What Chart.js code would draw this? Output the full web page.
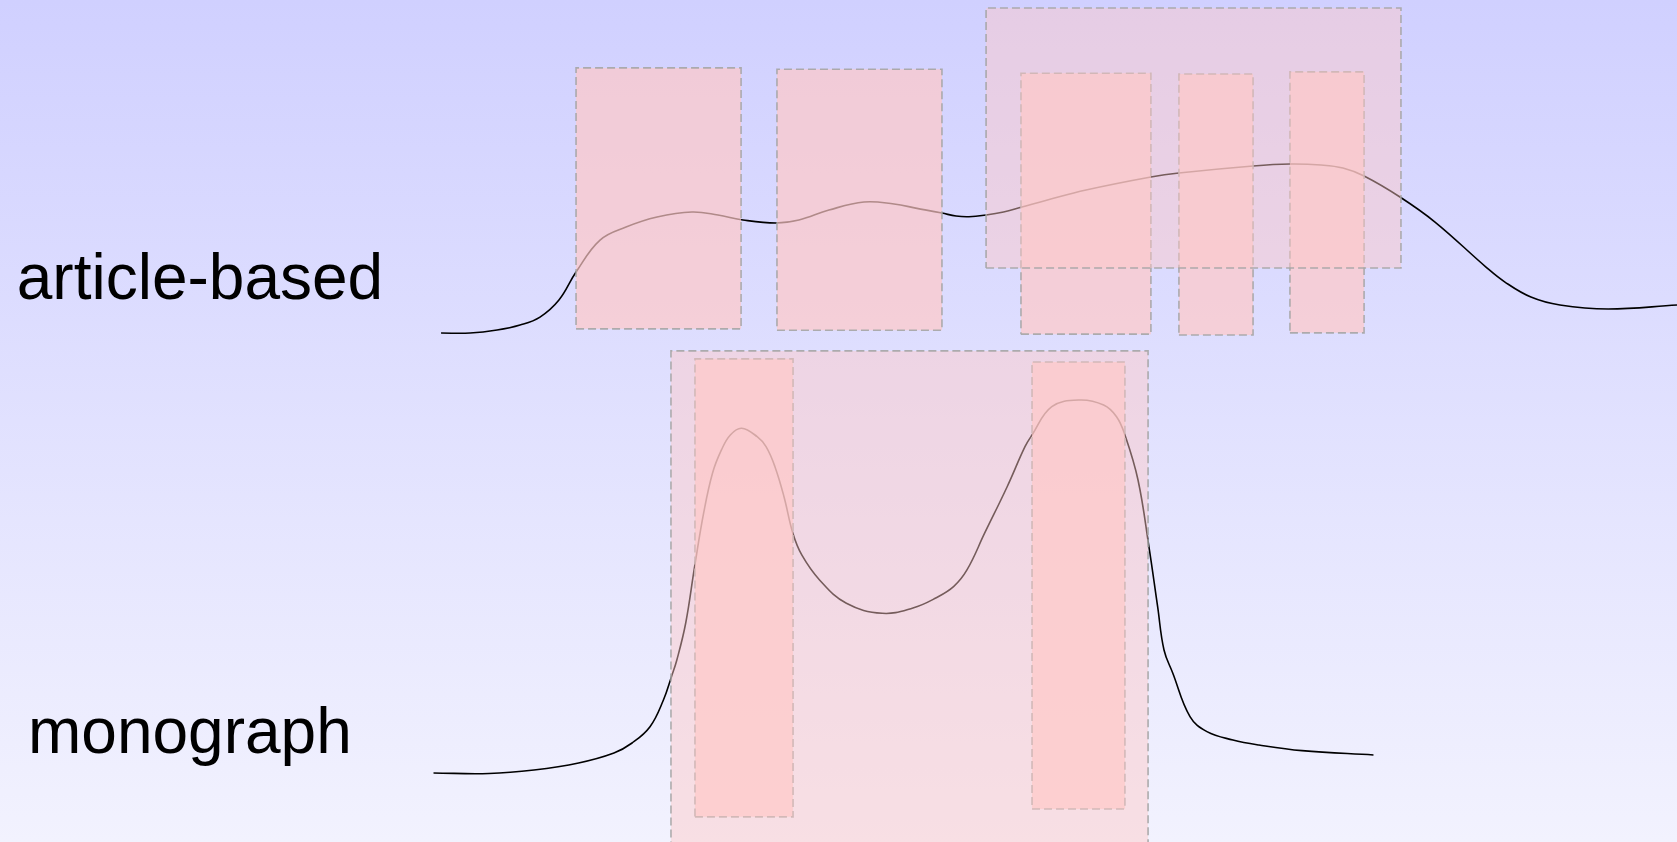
<!DOCTYPE html>
<html>
<head>
<meta charset="utf-8">
<script src="https://cdn.jsdelivr.net/npm/chart.js@4/dist/chart.umd.min.js"></script>
<style>
  html, body { margin: 0; padding: 0; overflow: hidden; }
  #wrap { width: 1677px; height: 842px; position: relative; }
</style>
</head>
<body>
<div id="wrap"><canvas id="c"></canvas></div>
<script>
// ---------- data ----------
const ridgeNames = ['article-based', 'monograph'];
const ridgeBaselines = [1, 0];

// density curve, article-based (x, density above its baseline)
const articleX = [26.30, 28.03, 29.64, 31.01, 32.20, 33.33, 34.35, 35.78, 37.33, 39.18, 41.26, 42.81, 44.31, 46.27, 47.64, 49.43, 51.52, 53.31, 54.68, 56.17, 57.01, 57.78, 58.80, 59.84, 60.88, 62.46, 64.76, 68.63, 70.30, 74.72, 76.92, 78.77, 80.08, 81.34, 83.48, 85.57, 88.61, 89.74, 91.29, 93.02, 95.89, 100.0, 101.97];
const articleD = [0.0045, 0.0045, 0.0113, 0.0227, 0.0408, 0.0794, 0.1429, 0.2155, 0.2450, 0.2677, 0.2790, 0.2722, 0.2609, 0.2541, 0.2609, 0.2835, 0.3017, 0.2971, 0.2874, 0.2767, 0.2699, 0.2683, 0.2722, 0.2790, 0.2897, 0.3063, 0.3289, 0.3584, 0.3675, 0.3834, 0.3879, 0.3857, 0.3789, 0.3607, 0.3131, 0.2563, 0.1542, 0.1202, 0.0862, 0.0681, 0.0590, 0.0681, 0.0726];

// density curve, monograph
const monoX = [25.85, 29.16, 31.84, 34.50, 36.61, 37.69, 38.76, 39.56, 40.04, 40.36, 40.89, 41.42, 41.96, 42.49, 43.02, 43.55, 44.22, 45.15, 45.68, 46.21, 46.75, 47.28, 47.81, 48.87, 50.47, 52.60, 54.44, 55.80, 56.86, 57.66, 58.72, 60.05, 61.12, 61.54, 62.72, 64.39, 65.81, 66.58, 67.08, 67.86, 68.51, 69.03, 69.41, 69.93, 70.96, 71.97, 73.52, 75.07, 77.64, 81.90];
const monoD = [0.0066, 0.0054, 0.0134, 0.0293, 0.0519, 0.0746, 0.1116, 0.1722, 0.2251, 0.2629, 0.3468, 0.4746, 0.5964, 0.6871, 0.7393, 0.7733, 0.7885, 0.7694, 0.7467, 0.7014, 0.6333, 0.5503, 0.5011, 0.4444, 0.3915, 0.3688, 0.3809, 0.4035, 0.4292, 0.4671, 0.5510, 0.6553, 0.7467, 0.7733, 0.8375, 0.8527, 0.8413, 0.8148, 0.7733, 0.6712, 0.5199, 0.3838, 0.2856, 0.2334, 0.1343, 0.1003, 0.0814, 0.0701, 0.0572, 0.0474];

// highlight boxes: x range and y range (data units), kind
const boxX0   = [34.35, 46.33, 60.88, 70.30, 76.92, 58.80, 41.44, 61.54, 40.01];
const boxX1   = [44.19, 56.17, 68.63, 74.72, 81.34, 83.54, 47.29, 67.08, 68.46];
const boxY0   = [1.014, 1.011, 1.002, 1.000, 1.005, 1.152, -0.093, -0.075, -0.25];
const boxY1   = [1.606, 1.603, 1.594, 1.592, 1.597, 1.742, 0.946, 0.939, 0.964];
const boxKind = ['item', 'item', 'item', 'item', 'item', 'group', 'item', 'item', 'group'];

// ---------- build ----------
function curve(xs, ds, base) {
  return xs.map((x, i) => ({ x: x, y: base + ds[i] }));
}
const datasets = [];
datasets.push({
  label: ridgeNames[0],
  data: curve(articleX, articleD, ridgeBaselines[0]),
  borderColor: '#000', borderWidth: 1.6, pointRadius: 0,
  tension: 0.4, fill: false, order: 2
});
datasets.push({
  label: ridgeNames[1],
  data: curve(monoX, monoD, ridgeBaselines[1]),
  borderColor: '#000', borderWidth: 1.6, pointRadius: 0,
  tension: 0.4, fill: false, order: 2
});
boxX0.forEach((x0, i) => {
  const x1 = boxX1[i], y0 = boxY0[i], y1 = boxY1[i];
  const group = boxKind[i] === 'group';
  datasets.push({
    label: 'box' + i,
    data: [{x: x0, y: y0}, {x: x1, y: y0}, {x: x1, y: y1}, {x: x0, y: y1}, {x: x0, y: y0}],
    borderColor: 'rgba(165,165,165,0.9)', borderWidth: 1.6, borderDash: [8, 4],
    backgroundColor: group ? 'rgba(255,200,198,0.46)' : 'rgba(255,200,198,0.69)',
    pointRadius: 0, tension: 0, fill: 'shape', order: group ? 0 : 1
  });
});

const bgPlugin = {
  id: 'bg',
  beforeDraw(chart) {
    const {ctx, width, height} = chart;
    const g = ctx.createLinearGradient(0, 0, 0, height);
    g.addColorStop(0, 'rgb(208,208,255)');
    g.addColorStop(1, 'rgb(242,242,254)');
    ctx.save();
    ctx.fillStyle = g;
    ctx.fillRect(0, 0, width, height);
    ctx.restore();
  }
};

const labelPlugin = {
  id: 'ridgeLabels',
  afterDatasetsDraw(chart, args, opts) {
    const {ctx} = chart;
    const xs = chart.scales.x, ys = chart.scales.y;
    ctx.save();
    ctx.font = opts.font;
    ctx.fillStyle = opts.color;
    ctx.textAlign = 'left';
    ctx.textBaseline = 'alphabetic';
    ridgeNames.forEach((name, i) => {
      const px = xs.getPixelForValue(opts.xPos[i]);
      const py = ys.getPixelForValue(ridgeBaselines[i] + opts.yOffset[i]);
      ctx.fillText(name, px, py);
    });
    ctx.restore();
  }
};

new Chart(document.getElementById('c'), {
  type: 'line',
  data: { datasets },
  options: {
    responsive: true,
    maintainAspectRatio: false,
    animation: false,
    events: [],
    layout: { padding: 0 },
    scales: {
      x: { type: 'linear', min: 0, max: 100, display: false },
      y: { type: 'linear', min: -0.15, max: 1.76, display: false }
    },
    plugins: {
      legend: { display: false },
      tooltip: { enabled: false },
      ridgeLabels: {
        font: '64px "Liberation Sans", Arial, sans-serif',
        color: '#000',
        xPos: [1.0, 1.67],
        yOffset: [0.082, 0.051]
      }
    }
  },
  plugins: [bgPlugin, labelPlugin]
});
</script>
</body>
</html>
